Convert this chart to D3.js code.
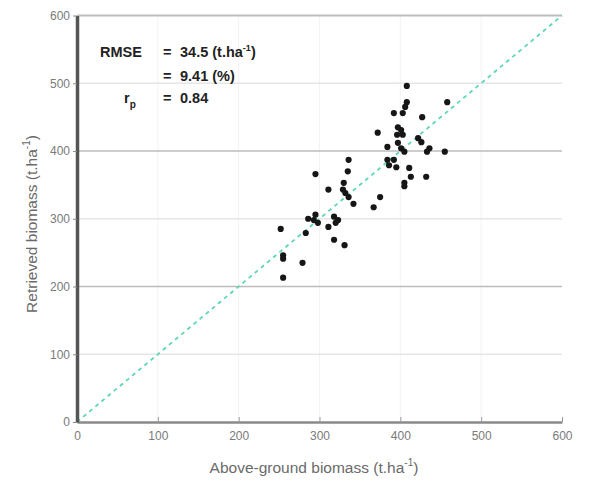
<!DOCTYPE html>
<html><head><meta charset="utf-8">
<script src="https://cdn.jsdelivr.net/npm/d3@7"></script>
<style>body{margin:0;background:#fff}svg{display:block}</style>
</head><body><svg id="c" width="597" height="481"></svg>
<script>
const observed = [408,458,408,406,403,392,427,372,397,401,396,403,422,426,384,397,401,405,436,433,455,384,392,386,395,411,413,405,405,432,336,335,295,311,330,329,332,336,342,375,367,295,293,298,286,318,323,320,311,283,252,318,331,255,255,279,255];
const retrieved = [496,472,472,465,456,456,450,427,435,431,424,424,419,413,406,412,404,399,404,399,399,387,387,379,376,375,362,353,348,362,387,370,366,343,353,343,338,332,322,332,317,306,298,294,300,303,298,294,288,279,285,269,261,246,241,235,213];
const tickValues = [0,100,200,300,400,500,600];
const statLines = ["34.5", "9.41", "0.84"];

const svg = d3.select("#c");
const x = d3.scaleLinear().domain([0,600]).range([77, 562]);
const y = d3.scaleLinear().domain([0,600]).range([422, 15.5]);

// faint vertical grid
svg.append("g").selectAll("line").data(tickValues.slice(1,6)).join("line")
  .attr("x1", d=>x(d)).attr("x2", d=>x(d)).attr("y1", y(600)).attr("y2", y(0))
  .attr("stroke", "#f3f3f3").attr("stroke-width", 1);
// horizontal grid
svg.append("g").selectAll("line").data(tickValues.slice(1)).join("line")
  .attr("x1", x(0)).attr("x2", x(600)).attr("y1", d=>y(d)).attr("y2", d=>y(d))
  .attr("stroke", d => (d%200===0) ? "#bdbdbd" : "#e6e6e6")
  .attr("stroke-width", d => d===600 ? 2 : 1.3);

// 1:1 line
svg.append("line").attr("x1", x(0)).attr("y1", y(0)).attr("x2", x(600)).attr("y2", y(600))
  .attr("stroke", "#5ed6b8").attr("stroke-width", 1.8).attr("stroke-dasharray", "4,4");

// points
svg.append("g").selectAll("circle").data(observed.map((d,i)=>[d, retrieved[i]])).join("circle")
  .attr("cx", d=>x(d[0])).attr("cy", d=>y(d[1])).attr("r", 3.1).attr("fill", "#161616");

const tf = "Liberation Sans, Arial, sans-serif";
// axes
const xa = svg.append("g").attr("transform", `translate(0,${y(0)})`)
  .call(d3.axisBottom(x).tickValues(tickValues).tickSizeInner(-5).tickSizeOuter(0).tickPadding(9));
xa.select(".domain").attr("stroke", "#8a8a8a").attr("stroke-width", 2.5);
xa.selectAll(".tick line").attr("stroke", "#999");
xa.selectAll("text").attr("fill", "#7a7a7a").attr("font-size", 12).attr("font-family", tf);

const ya = svg.append("g").attr("transform", `translate(${x(0)},0)`)
  .call(d3.axisLeft(y).tickValues(tickValues).tickSizeInner(4).tickSizeOuter(0).tickPadding(3));
ya.select(".domain").attr("stroke", "#555").attr("stroke-width", 3.5);
ya.selectAll(".tick line").attr("stroke", "#888");
ya.selectAll("text").attr("fill", "#7a7a7a").attr("font-size", 12).attr("font-family", tf);

// axis titles
const xt = svg.append("text").attr("x", 314).attr("y", 473).attr("text-anchor", "middle")
  .attr("font-family", tf).attr("font-size", 15.5).attr("fill", "#6a6a6a");
xt.append("tspan").text("Above-ground biomass (t.ha");
xt.append("tspan").attr("dy", -7).attr("font-size", 10).text("-1");
xt.append("tspan").attr("dy", 7).text(")");

const yt = svg.append("text").attr("transform", "translate(37,224) rotate(-90)").attr("text-anchor", "middle")
  .attr("font-family", tf).attr("font-size", 15.5).attr("fill", "#6a6a6a");
yt.append("tspan").text("Retrieved biomass (t.ha");
yt.append("tspan").attr("dy", -7).attr("font-size", 10).text("-1");
yt.append("tspan").attr("dy", 7).text(")");

// statistics annotation
const ann = svg.append("g").attr("font-family", tf).attr("font-weight", "bold").attr("font-size", 14.5).attr("fill", "#222");
ann.append("text").attr("x", 100).attr("y", 57).text("RMSE");
ann.append("text").attr("x", 163).attr("y", 57).text("=");
const l1 = ann.append("text").attr("x", 180).attr("y", 57);
l1.append("tspan").text(statLines[0] + " (t.ha");
l1.append("tspan").attr("dy", -6).attr("font-size", 9).text("-1");
l1.append("tspan").attr("dy", 6).text(")");
ann.append("text").attr("x", 163).attr("y", 81).text("=");
ann.append("text").attr("x", 180).attr("y", 81).text(statLines[1] + " (%)");
const rp = ann.append("text").attr("x", 124).attr("y", 103);
rp.append("tspan").text("r");
rp.append("tspan").attr("dy", 5).attr("font-size", 10).text("p");
ann.append("text").attr("x", 163).attr("y", 103).text("=");
ann.append("text").attr("x", 180).attr("y", 103).text(statLines[2]);
</script></body></html>
